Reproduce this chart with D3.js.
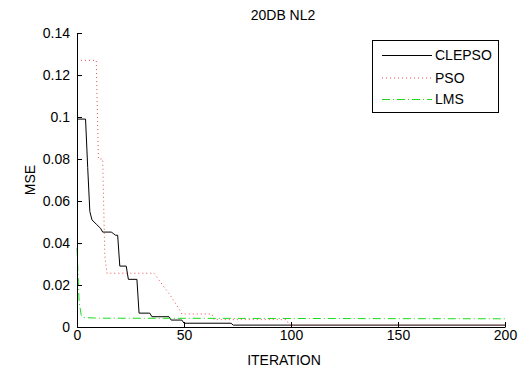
<!DOCTYPE html>
<html>
<head>
<meta charset="utf-8">
<script src="https://cdn.jsdelivr.net/npm/d3@7"></script>
<style>
  body { margin: 0; background: #fff; }
  text { font-family: "Liberation Sans", Arial, Helvetica, sans-serif; fill: #000; }
</style>
</head>
<body>
<svg id="chart" width="532" height="374"></svg>
<script>
// Labels
const titleText = "20DB NL2";
const xLabelText = "ITERATION";
const yLabelText = "MSE";

// Axis ticks
const xTicks = [0, 50, 100, 150, 200];
const xTickLabels = ["0", "50", "100", "150", "200"];
const yTicks = [0, 0.02, 0.04, 0.06, 0.08, 0.1, 0.12, 0.14];
const yTickLabels = ["0", "0.02", "0.04", "0.06", "0.08", "0.1", "0.12", "0.14"];

// Series names (legend order)
const seriesNames = ["CLEPSO", "PSO", "LMS"];

// CLEPSO convergence: iteration / MSE breakpoints
const clepsoIter = [0, 4, 5, 6, 7, 9, 11, 12, 16, 17, 18, 19, 20, 23, 24, 28, 29, 34, 35, 43, 44, 49, 50, 72, 73, 200];
const clepsoMse  = [0.099, 0.099, 0.076, 0.055, 0.051, 0.049, 0.047, 0.0452, 0.0452, 0.0445, 0.0437, 0.0437, 0.029, 0.029, 0.0227, 0.0227, 0.0066, 0.0066, 0.0049, 0.0049, 0.0033, 0.0033, 0.0018, 0.0018, 0.0009, 0.0009];

// PSO convergence
const psoIter = [0, 9, 10, 12, 13, 14, 36, 40, 44, 48, 49, 63, 64, 98, 99, 200];
const psoMse  = [0.127, 0.127, 0.080, 0.080, 0.034, 0.0256, 0.0256, 0.020, 0.0145, 0.0080, 0.0062, 0.0062, 0.0035, 0.0035, 0.0009, 0.0009];

// LMS convergence
const lmsIter = [0, 1, 2, 3, 10, 200];
const lmsMse  = [0.0376, 0.012, 0.0055, 0.0045, 0.0042, 0.0039];

const W = 532, H = 374;
const margin = { left: 77, right: 27, top: 33, bottom: 47 };

const svg = d3.select("#chart");

const x = d3.scaleLinear().domain([0, 200]).range([margin.left, W - margin.right]);
const y = d3.scaleLinear().domain([0, 0.14]).range([H - margin.bottom, margin.top]);

const series = [
  { name: seriesNames[0], iter: clepsoIter, mse: clepsoMse, color: "#000000", dash: null },
  { name: seriesNames[1], iter: psoIter, mse: psoMse, color: "#f04a4a", dash: "1,3" },
  { name: seriesNames[2], iter: lmsIter, mse: lmsMse, color: "#1adc1a", dash: "8,3,1,3" }
];

const line = d3.line().x(d => x(d[0])).y(d => y(d[1]));

// Curves
const plot = svg.append("g");
series.forEach(s => {
  const pts = s.iter.map((it, i) => [it, s.mse[i]]);
  plot.append("path")
    .datum(pts)
    .attr("fill", "none")
    .attr("stroke", s.color)
    .attr("stroke-width", 1)
    .attr("stroke-dasharray", s.dash)
    .attr("d", line);
});

// Axes (inward ticks, no box)
const fontSize = "14px";
const yAxis = svg.append("g")
  .attr("transform", `translate(${margin.left},0)`)
  .call(d3.axisLeft(y).tickValues(yTicks)
    .tickFormat((d, i) => yTickLabels[i])
    .tickSizeInner(-5).tickSizeOuter(0).tickPadding(7));
const xAxis = svg.append("g")
  .attr("transform", `translate(0,${H - margin.bottom})`)
  .call(d3.axisBottom(x).tickValues(xTicks)
    .tickFormat((d, i) => xTickLabels[i])
    .tickSizeInner(-5).tickSizeOuter(0).tickPadding(3));
[yAxis, xAxis].forEach(g => {
  g.attr("font-family", null).attr("font-size", null);
  g.selectAll("text").style("font-size", fontSize).attr("fill", "#000");
  g.selectAll("line").attr("stroke", "#000");
  g.select(".domain").attr("stroke", "#000");
});

// Title and axis labels
svg.append("text").attr("x", 283).attr("y", 20)
  .attr("text-anchor", "middle").style("font-size", fontSize).text(titleText);
svg.append("text").attr("x", 284).attr("y", 365)
  .attr("text-anchor", "middle").style("font-size", fontSize).text(xLabelText);
svg.append("text").attr("transform", "translate(35,180) rotate(-90)")
  .attr("text-anchor", "middle").style("font-size", fontSize).text(yLabelText);

// Legend
const legend = svg.append("g");
legend.append("rect")
  .attr("x", 372.5).attr("y", 40.5).attr("width", 126).attr("height", 72)
  .attr("fill", "#fff").attr("stroke", "#000").attr("stroke-width", 1);
const legendY = [55, 77.5, 99];
series.forEach((s, i) => {
  legend.append("line")
    .attr("x1", 382).attr("x2", 432)
    .attr("y1", legendY[i] + 0.5).attr("y2", legendY[i] + 0.5)
    .attr("stroke", s.color).attr("stroke-width", 1)
    .attr("stroke-dasharray", s.dash);
  legend.append("text")
    .attr("x", 435).attr("y", legendY[i]).attr("dy", "0.36em")
    .style("font-size", fontSize).text(s.name);
});
</script>
</body>
</html>
